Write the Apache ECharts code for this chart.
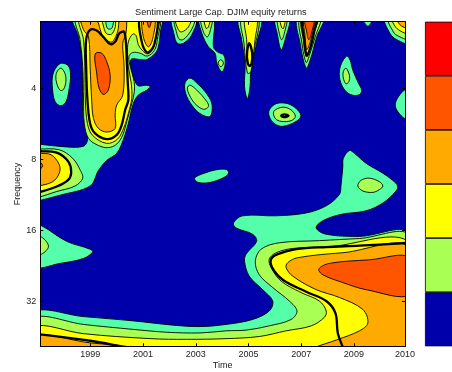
<!DOCTYPE html>
<html>
<head>
<meta charset="utf-8">
<style>html,body{margin:0;padding:0;background:#fff;overflow:hidden}#c{width:452px;height:372px}</style>
<script src="https://cdn.jsdelivr.net/npm/echarts@6/dist/echarts.min.js"></script>
</head>
<body>
<div id="c"></div>
<script>
// x: time in years; y: log2(frequency)
const titleText = 'Sentiment Large Cap. DJIM equity returns';
const xTickValues = [1999, 2001, 2003, 2005, 2007, 2009, 2010.94];
const xTickLabels = ['1999', '2001', '2003', '2005', '2007', '2009', '2010'];
const yTickValues = [2, 3, 4, 5];
const yTickLabels = ['4', '8', '16', '32'];
const levelColors = ['#0000aa', '#55ffaa', '#aaff55', '#ffff00', '#ffaa00', '#ff5500', '#ff0000'];
const colorbarColors = ['#0000aa', '#aaff55', '#ffff00', '#ffaa00', '#ff5500', '#ff0000'];

const tealTop = [[1998.38,1.0],[1998.55,1.27],[1998.67,1.55],[1998.70,1.92],[1998.71,2.35],[1998.80,2.56],[1998.89,2.72],[1998.74,2.81],[1998.10,2.82],[1997.03,2.78],[1996.9,2.78],[1996.9,3.6],[1997.03,3.58],[1997.85,3.50],[1998.99,3.37],[1999.31,3.15],[1999.62,3.01],[2000.00,2.91],[2000.25,2.72],[2000.44,2.49],[2000.63,2.21],[2000.82,2.09],[2001.14,2.02],[2001.27,1.97],[2001.14,1.95],[2000.82,1.96],[2000.70,1.90],[2000.57,1.76],[2000.51,1.64],[2000.57,1.58],[2000.89,1.59],[2001.14,1.59],[2001.46,1.50],[2001.58,1.41],[2001.65,1.22],[2001.67,1.0]];
const greenTop = [[1998.46,1.0],[1998.61,1.31],[1998.71,1.69],[1998.74,2.16],[1998.77,2.49],[1998.93,2.70],[1999.31,2.80],[1999.68,2.83],[2000.00,2.78],[2000.23,2.65],[2000.38,2.46],[2000.57,2.21],[2000.67,2.04],[2000.66,1.90],[2000.53,1.71],[2000.46,1.55],[2000.61,1.49],[2000.89,1.50],[2001.16,1.54],[2001.43,1.46],[2001.54,1.31],[2001.59,1.0],[1999.98,1.0],[1999.81,1.15],[1999.65,1.15],[1999.49,1.0]];
const yellowTop = [[1998.58,1.0],[1998.74,1.31],[1998.79,1.69],[1998.81,2.16],[1998.89,2.49],[1999.09,2.66],[1999.62,2.77],[2000.03,2.71],[2000.28,2.54],[2000.44,2.35],[2000.57,2.14],[2000.55,1.92],[2000.44,1.69],[2000.41,1.50],[2000.44,1.34],[2000.61,1.23],[2000.73,1.25],[2000.82,1.38],[2000.97,1.46],[2001.18,1.51],[2001.39,1.43],[2001.49,1.27],[2001.56,1.0],[2000.03,1.0],[1999.94,1.14],[1999.81,1.23],[1999.60,1.22],[1999.34,1.0]];
const orangeTop = [[1998.65,1.0],[1998.74,1.17],[1998.93,1.27],[1998.99,1.69],[1999.05,2.16],[1999.12,2.42],[1999.31,2.56],[1999.62,2.61],[1999.94,2.56],[1999.94,2.37],[2000.00,2.23],[2000.23,2.09],[2000.28,1.69],[2000.23,1.36],[2000.35,1.22],[2000.35,1.0],[2000.13,1.0],[2000.03,1.20],[1999.81,1.34],[1999.49,1.27],[1999.18,1.0]];
const redTop = [[1999.18,1.51],[1999.43,1.50],[1999.62,1.62],[1999.75,1.81],[1999.68,2.02],[1999.49,2.08],[1999.33,1.99],[1999.24,1.78]];
const sigTop = [[1998.84,1.31],[1998.84,1.69],[1998.89,2.16],[1998.99,2.49],[1999.18,2.63],[1999.62,2.71],[2000.00,2.65],[2000.19,2.51],[2000.32,2.30],[2000.44,2.16],[2000.42,1.92],[2000.38,1.60],[2000.35,1.36],[2000.28,1.20],[2000.10,1.22],[1999.94,1.34],[1999.75,1.37],[1999.49,1.27],[1999.24,1.18],[1998.99,1.17]];

const orangePeak2 = [[2000.99,1.0],[2001.01,1.27],[2001.20,1.41],[2001.37,1.29],[2001.43,1.0]];
const redPeak2 = [[2001.15,1.0],[2001.23,1.14],[2001.32,1.0]];
const sigPeak2 = [[2000.89,0.98],[2000.95,1.34],[2001.16,1.49],[2001.42,1.38],[2001.52,0.98]];

const greenLobe8 = [[1996.9,2.85],[1997.03,2.85],[1997.82,2.86],[1998.33,2.98],[1998.62,3.15],[1998.71,3.26],[1998.42,3.37],[1997.70,3.45],[1997.03,3.53],[1996.9,3.53]];
const yellowLobe8 = [[1996.9,2.88],[1997.03,2.88],[1997.72,2.90],[1998.17,3.03],[1998.27,3.19],[1998.14,3.29],[1997.70,3.38],[1997.03,3.46],[1996.9,3.46]];
const orangeLobe8 = [[1996.9,2.91],[1997.03,2.91],[1997.51,2.93],[1997.82,3.07],[1997.82,3.19],[1997.57,3.31],[1997.03,3.37],[1996.9,3.37]];
const redLobe8 = [[1997.03,3.03],[1997.19,3.08],[1997.03,3.15]];

const tealBlobA = [[1997.91,1.64],[1998.17,1.68],[1998.25,1.81],[1998.20,1.99],[1998.08,2.18],[1997.88,2.24],[1997.66,2.18],[1997.56,1.99],[1997.57,1.81],[1997.72,1.69]];
const greenBlobA = [[1997.89,1.71],[1998.04,1.79],[1998.07,1.90],[1997.98,2.01],[1997.85,2.02],[1997.72,1.92],[1997.69,1.82],[1997.75,1.75]];

const tealP3 = [[2002.11,1.0],[2002.18,1.24],[2002.30,1.36],[2002.53,1.36],[2002.85,1.24],[2003.01,1.0]];
const greenP3 = [[2002.21,1.0],[2002.28,1.22],[2002.40,1.31],[2002.59,1.29],[2002.89,1.13],[2002.94,1.0]];
const yellowP3 = [[2002.24,1.0],[2002.34,1.17],[2002.47,1.20],[2002.72,1.13],[2002.81,1.0]];

const tealP4 = [[2003.14,1.0],[2003.23,1.22],[2003.48,1.41],[2003.73,1.50],[2003.80,1.64],[2003.99,1.76],[2004.11,1.67],[2004.07,1.53],[2003.82,1.48],[2003.67,1.41],[2003.67,1.0]];
const greenP4 = [[2003.20,1.0],[2003.29,1.20],[2003.44,1.27],[2003.57,1.15],[2003.61,1.0]];
const yellowP4 = [[2003.32,1.0],[2003.39,1.15],[2003.48,1.13],[2003.54,1.0]];
const greenP4Small = [[2003.95,1.59],[2004.05,1.64],[2003.95,1.69],[2003.85,1.64]];

const tealBlobB = [[2002.78,1.85],[2003.04,1.92],[2003.35,2.04],[2003.61,2.21],[2003.54,2.39],[2003.16,2.35],[2002.85,2.23],[2002.62,2.07],[2002.59,1.92]];
const greenBlobB = [[2002.78,1.95],[2003.04,2.02],[2003.42,2.18],[2003.48,2.25],[2003.29,2.29],[2002.97,2.21],[2002.76,2.09],[2002.68,1.99]];
const tealBlobC = [[2002.95,3.26],[2003.32,3.19],[2003.80,3.14],[2004.18,3.14],[2004.24,3.19],[2004.07,3.25],[2003.54,3.32],[2003.10,3.32]];

const tealP5 = [[2004.64,1.0],[2004.74,1.31],[2004.87,1.64],[2004.85,1.97],[2004.96,2.14],[2005.06,1.97],[2005.09,1.74],[2005.31,1.36],[2005.47,1.0]];
const greenP5 = [[2004.74,1.0],[2004.83,1.36],[2004.96,1.78],[2005.09,1.76],[2005.19,1.50],[2005.38,1.0]];
const yellowP5 = [[2004.87,1.0],[2004.93,1.31],[2005.00,1.67],[2005.12,1.64],[2005.25,1.31],[2005.31,1.0]];
const sigP5 = [[2005.03,1.36],[2005.14,1.50],[2005.12,1.64],[2005.05,1.68],[2004.96,1.62],[2004.95,1.48]];

const tealP6 = [[2006.02,1.0],[2006.10,1.24],[2006.24,1.45],[2006.39,1.31],[2006.55,1.0]];
const greenP6 = [[2006.11,1.0],[2006.17,1.22],[2006.26,1.31],[2006.36,1.22],[2006.45,1.0]];
const yellowP6 = [[2006.20,1.0],[2006.26,1.14],[2006.33,1.15],[2006.39,1.0]];

const tealP7 = [[2006.87,1.0],[2006.96,1.36],[2007.19,1.71],[2007.34,1.60],[2007.59,1.27],[2007.84,1.0]];
const greenP7 = [[2006.96,1.0],[2007.03,1.36],[2007.19,1.63],[2007.31,1.53],[2007.53,1.27],[2007.72,1.0]];
const yellowP7 = [[2007.02,1.0],[2007.08,1.31],[2007.19,1.55],[2007.29,1.50],[2007.46,1.24],[2007.62,1.0]];
const sigP7 = [[2007.06,1.0],[2007.12,1.31],[2007.21,1.53],[2007.34,1.43],[2007.49,1.20],[2007.57,1.0]];
const orangeP7 = [[2007.12,1.0],[2007.15,1.27],[2007.21,1.45],[2007.31,1.38],[2007.44,1.20],[2007.51,1.0]];
const redP7 = [[2007.14,1.0],[2007.21,1.20],[2007.29,1.31],[2007.39,1.22],[2007.48,1.0]];

const tealTopSmall = [[2009.27,1.0],[2009.42,1.08],[2009.53,1.12],[2009.64,1.08],[2009.72,1.0]];
const tealCorner = [[2010.18,1.0],[2010.37,1.22],[2010.63,1.31],[2011.13,1.36],[2011.13,0.94]];
const greenCorner = [[2010.31,1.0],[2010.50,1.20],[2010.69,1.26],[2011.13,1.30],[2011.13,0.94]];
const yellowCorner = [[2010.47,1.0],[2010.63,1.15],[2011.13,1.22],[2011.13,0.94]];
const orangeCorner = [[2010.65,1.0],[2010.78,1.11],[2011.13,1.14],[2011.13,0.94]];

const tealBlobD = [[2008.73,1.54],[2008.86,1.60],[2008.96,1.74],[2009.17,1.92],[2009.30,2.03],[2009.17,2.09],[2008.86,2.08],[2008.60,1.99],[2008.45,1.83],[2008.50,1.67]];
const greenBlobD = [[2008.70,1.71],[2008.83,1.81],[2008.81,1.90],[2008.70,1.93],[2008.60,1.85],[2008.60,1.76]];
const tealBlobE = [[2005.79,2.30],[2006.05,2.21],[2006.49,2.21],[2006.81,2.28],[2006.99,2.38],[2006.81,2.46],[2006.30,2.53],[2005.98,2.49],[2005.79,2.39]];
const greenBlobE = [[2005.96,2.32],[2006.30,2.26],[2006.62,2.30],[2006.78,2.39],[2006.62,2.45],[2006.24,2.46],[2006.02,2.42]];
const sigBlobE = [[2006.24,2.38],[2006.36,2.36],[2006.52,2.38],[2006.36,2.40]];
const tealEdge = [[2011.13,2.01],[2010.85,2.04],[2010.57,2.23],[2010.85,2.40],[2011.13,2.43]];

const tealLow = [[1996.84,5.15],[1998.74,5.21],[2000.63,5.27],[2002.15,5.33],[2003.16,5.35],[2004.15,5.32],[2005.16,5.25],[2005.79,5.13],[2005.92,4.99],[2005.54,4.83],[2005.03,4.64],[2004.85,4.43],[2004.91,4.33],[2005.31,4.15],[2005.16,4.05],[2004.53,3.96],[2004.43,3.89],[2004.78,3.79],[2006.05,3.79],[2007.19,3.75],[2007.95,3.65],[2008.45,3.49],[2008.51,3.37],[2008.58,3.10],[2008.60,2.98],[2008.83,2.87],[2009.02,2.91],[2009.46,3.05],[2010.10,3.19],[2010.47,3.29],[2010.66,3.37],[2010.60,3.44],[2010.10,3.61],[2009.46,3.72],[2008.51,3.77],[2007.82,3.86],[2007.57,3.96],[2007.95,4.05],[2009.21,4.08],[2011.13,4.05],[2011.13,5.73],[1996.84,5.73]];
const greenLowBlob = [[2009.15,3.37],[2009.27,3.29],[2009.59,3.26],[2009.97,3.31],[2010.10,3.37],[2009.97,3.42],[2009.72,3.46],[2009.34,3.44]];
const greenLow = [[1996.84,5.23],[1998.74,5.32],[2000.63,5.39],[2001.90,5.43],[2003.16,5.44],[2004.15,5.41],[2004.91,5.40],[2005.79,5.34],[2006.62,5.25],[2006.84,5.13],[2006.55,4.99],[2005.92,4.80],[2005.41,4.62],[2005.26,4.43],[2005.48,4.26],[2006.17,4.17],[2007.69,4.14],[2009.21,4.11],[2011.13,4.08],[2011.13,5.73],[1996.84,5.73]];
const yellowLow = [[1996.84,5.35],[1998.74,5.45],[2001.27,5.52],[2002.66,5.53],[2004.15,5.52],[2005.41,5.49],[2006.43,5.41],[2007.38,5.34],[2007.88,5.22],[2007.95,5.13],[2007.69,4.99],[2006.99,4.87],[2006.24,4.71],[2005.86,4.52],[2005.79,4.40],[2006.05,4.31],[2006.68,4.25],[2007.95,4.23],[2011.13,4.18],[2011.13,5.73],[1996.84,5.73]];
const orangeLowRight = [[2007.34,5.73],[2007.44,5.66],[2008.33,5.54],[2009.21,5.41],[2009.53,5.30],[2009.34,5.11],[2008.45,4.94],[2007.57,4.83],[2006.68,4.64],[2006.43,4.52],[2006.49,4.45],[2006.87,4.38],[2008.58,4.31],[2011.13,4.25],[2011.13,5.73]];
const orangeLowLeft = [[1996.84,5.47],[1998.99,5.58],[2000.38,5.63],[2000.89,5.73],[1996.84,5.73]];
const redLowRight = [[2011.13,4.38],[2009.59,4.41],[2008.07,4.46],[2007.67,4.54],[2007.82,4.62],[2008.58,4.73],[2009.46,4.83],[2011.13,4.90]];
const tealLobe16 = [[1996.84,3.91],[1997.15,3.93],[1998.10,4.15],[1998.99,4.26],[1999.09,4.30],[1998.74,4.39],[1997.85,4.46],[1996.84,4.50]];
const greenLobe16 = [[1996.84,4.07],[1997.15,4.09],[1997.41,4.22],[1997.15,4.33],[1996.84,4.34]];

const sigLowLeft = [[1996.84,5.45],[1998.99,5.55],[2000.00,5.62],[2000.38,5.67]];
const sigLowRight = [[2008.64,5.70],[2008.60,5.66],[2008.39,5.44],[2008.30,5.16],[2007.95,4.99],[2007.19,4.86],[2006.30,4.69],[2005.90,4.52],[2005.86,4.40],[2006.11,4.33],[2006.81,4.26],[2007.95,4.23],[2009.21,4.21],[2011.13,4.17]];

// level index into levelColors
const filled = [
  [1,tealTop],[1,tealBlobA],[1,tealP3],[1,tealP4],[1,tealBlobB],[1,tealBlobC],[1,tealP5],[1,tealP6],[1,tealP7],[1,tealTopSmall],[1,tealCorner],[1,tealBlobD],[1,tealBlobE],[1,tealEdge],[1,tealLow],[1,tealLobe16],
  [2,greenTop],[2,greenLobe8],[2,greenBlobA],[2,greenP3],[2,greenP4],[2,greenP4Small],[2,greenBlobB],[2,greenP5],[2,greenP6],[2,greenP7],[2,greenCorner],[2,greenBlobD],[2,greenBlobE],[2,greenLowBlob],[2,greenLow],[2,greenLobe16],
  [3,yellowTop],[3,yellowLobe8],[3,yellowP3],[3,yellowP4],[3,yellowP5],[3,yellowP6],[3,yellowP7],[3,yellowCorner],[3,yellowLow],
  [4,orangeTop],[4,orangePeak2],[4,orangeLobe8],[4,orangeP7],[4,orangeCorner],[4,orangeLowRight],[4,orangeLowLeft],
  [5,redTop],[5,redPeak2],[5,redLobe8],[5,redP7],[5,redLowRight]
];
const sigClosed = [sigTop, sigPeak2, yellowLobe8, sigP5, sigP7, sigBlobE];
const sigOpen = [sigLowLeft, sigLowRight];

const drawList = filled.map(f => ({pts: f[1], fill: levelColors[f[0]], width: 0.9, closed: true}))
  .concat(sigClosed.map(p => ({pts: p, fill: 'none', width: 2.3, closed: true})))
  .concat(sigOpen.map(p => ({pts: p, fill: 'none', width: 2.3, closed: false})));

const font = '"Liberation Sans", Arial, sans-serif';
const txt = '#222';
function tickFmt(values, labels){ return v => { const i = values.findIndex(t => Math.abs(t - v) < 1e-6); return i < 0 ? '' : labels[i]; }; }
const xLine = {show: true, onZero: false, lineStyle: {color: '#000', width: 1}};
const tick = vals => ({show: true, inside: true, length: 3, customValues: vals, lineStyle: {color: '#000', width: 1}});

const chart = echarts.init(document.getElementById('c'), null, {width: 452, height: 372, renderer: 'canvas'});
const colorbarSeries = colorbarColors.map(c => ({
  type: 'bar', xAxisIndex: 2, yAxisIndex: 2, stack: 'cb', barWidth: '100%', data: [1], silent: true,
  itemStyle: {color: c, borderColor: '#000', borderWidth: 0.8}
}));
chart.setOption({
  animation: false,
  backgroundColor: '#fff',
  title: {text: titleText, left: 130, top: 3, textStyle: {fontFamily: font, fontSize: 9.2, fontWeight: 'normal', color: txt}},
  grid: [
    {left: 40.3, right: 47, top: 21.7, bottom: 25.7, show: true, backgroundColor: levelColors[0], borderWidth: 0, outerBoundsMode: 'none'},
    {left: 425, width: 40, top: 21.7, bottom: 25.7, show: false, outerBoundsMode: 'none'}
  ],
  xAxis: [
    {type: 'value', gridIndex: 0, min: 1997.1, max: 2010.94, position: 'bottom', z: 5, axisLine: xLine, splitLine: {show: false},
     axisTick: tick(xTickValues),
     axisLabel: {customValues: xTickValues, formatter: tickFmt(xTickValues, xTickLabels), fontFamily: font, fontSize: 9, color: txt, margin: 4, hideOverlap: false, showMinLabel: true, showMaxLabel: true},
     name: 'Time', nameLocation: 'middle', nameGap: 15, nameMoveOverlap: false, nameTextStyle: {fontFamily: font, fontSize: 9, color: txt}},
    {type: 'value', gridIndex: 0, min: 1997.1, max: 2010.94, position: 'top', z: 5, axisLine: xLine, splitLine: {show: false},
     axisTick: tick(xTickValues), axisLabel: {show: false}},
    {type: 'category', gridIndex: 1, data: [''], axisLine: {show: false}, axisTick: {show: false}, axisLabel: {show: false}}
  ],
  yAxis: [
    {type: 'value', gridIndex: 0, inverse: true, min: 1.056, max: 5.628, position: 'left', z: 5, axisLine: xLine, splitLine: {show: false},
     axisTick: tick(yTickValues),
     axisLabel: {customValues: yTickValues, formatter: tickFmt(yTickValues, yTickLabels), fontFamily: font, fontSize: 9, color: txt, margin: 4},
     name: 'Frequency', nameLocation: 'middle', nameGap: 18, nameMoveOverlap: false, nameTextStyle: {fontFamily: font, fontSize: 9, color: txt}},
    {type: 'value', gridIndex: 0, inverse: true, min: 1.056, max: 5.628, position: 'right', z: 5, axisLine: xLine, splitLine: {show: false},
     axisTick: tick(yTickValues), axisLabel: {show: false}},
    {type: 'value', gridIndex: 1, min: 0, max: colorbarColors.length, axisLine: {show: false}, axisTick: {show: false}, axisLabel: {show: false}, splitLine: {show: false}}
  ],
  series: [{
    type: 'custom', xAxisIndex: 0, yAxisIndex: 0, clip: true, silent: true,
    data: drawList.map((d, i) => [i]),
    renderItem: function (params, api) {
      const d = drawList[params.dataIndex];
      const points = d.pts.map(p => api.coord(p));
      return {
        type: d.closed ? 'polygon' : 'polyline',
        shape: {points: points, smooth: 0.35},
        style: {fill: d.fill, stroke: '#000', lineWidth: d.width, lineJoin: 'round'}
      };
    }
  }].concat(colorbarSeries)
});
</script>
</body>
</html>
